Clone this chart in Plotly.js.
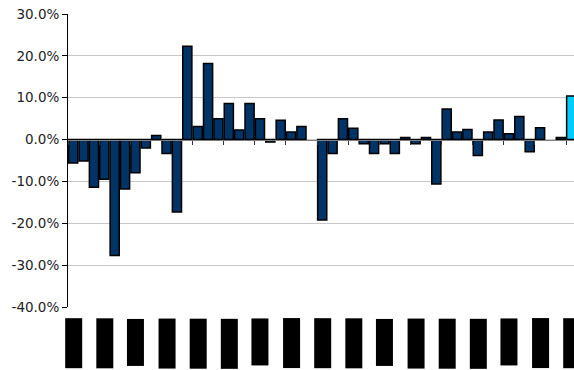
<!DOCTYPE html>
<html>
<head>
<meta charset="utf-8">
<script src="https://cdn.plot.ly/plotly-3.0.1.min.js"></script>
<style>html,body{margin:0;padding:0;background:#fff;}#chart{width:574px;height:370px;}</style>
</head>
<body>
<div id="chart"></div>
<script>
const categories = [
  'Jan 2004','Feb 2004','Mar 2004','Apr 2004','May 2004','Jun 2004','Jul 2004','Aug 2004','Sep 2004','Oct 2004','Nov 2004','Dec 2004',
  'Jan 2005','Feb 2005','Mar 2005','Apr 2005','May 2005','Jun 2005','Jul 2005','Aug 2005','Sep 2005','Oct 2005','Nov 2005','Dec 2005',
  'Jan 2006','Feb 2006','Mar 2006','Apr 2006','May 2006','Jun 2006','Jul 2006','Aug 2006','Sep 2006','Oct 2006','Nov 2006','Dec 2006',
  'Jan 2007','Feb 2007','Mar 2007','Apr 2007','May 2007','Jun 2007','Jul 2007','Aug 2007','Sep 2007','Oct 2007','Nov 2007','Dec 2007',
  'Jan 2008'
];
const returns = [
  -5.6, -5.1, -11.4, -9.5, -27.7, -11.8, -7.9, -2.0, 1.0, -3.3, -17.3, 22.3,
  3.1, 18.2, 5.0, 8.6, 2.3, 8.6, 5.0, -0.6, 4.6, 1.8, 3.1, null,
  -19.2, -3.3, 5.0, 2.7, -1.0, -3.3, -1.0, -3.3, 0.5, -1.0, 0.5, -10.6,
  7.3, 1.8, 2.4, -3.8, 1.8, 4.7, 1.4, 5.5, -2.9, 2.8, null, 0.5,
  10.4
];
const yTickVals = [-40, -30, -20, -10, 0, 10, 20, 30];
const yTickText = ['-40.0%', '-30.0%', '-20.0%', '-10.0%', '0.0%', '10.0%', '20.0%', '30.0%'];
const labelStep = 3;

const NAVY = '#003366';
const CYAN = '#00ccff';
const barColors = returns.map((v, i) => i === returns.length - 1 ? CYAN : NAVY);

const trace = {
  type: 'bar',
  x: categories,
  y: returns,
  marker: { color: barColors, line: { color: '#000000', width: 1.5 } },
  hoverinfo: 'x+y'
};

const annotations = [];
for (let i = 0; i < categories.length; i += labelStep) {
  annotations.push({
    x: categories[i], xref: 'x',
    y: 0, yref: 'paper', yshift: -11,
    yanchor: 'top', xanchor: 'center',
    text: categories[i],
    textangle: -90,
    showarrow: false,
    bgcolor: '#000000',
    borderpad: 2,
    font: { family: 'Liberation Sans, Arial, sans-serif', size: 11, color: '#000000' }
  });
}

const layout = {
  width: 574, height: 370,
  margin: { l: 68, r: 0, t: 14, b: 63, pad: 0 },
  paper_bgcolor: '#ffffff', plot_bgcolor: '#ffffff',
  showlegend: false,
  bargap: 0.12,
  font: { family: 'DejaVu Sans, Verdana, sans-serif', size: 13.5, color: '#222222' },
  xaxis: {
    type: 'category',
    range: [-0.5, 48.27],
    anchor: 'free', position: 40 / 70,
    showline: true, linecolor: '#808080', linewidth: 1,
    ticks: 'outside', tickson: 'boundaries', dtick: labelStep, ticklen: 4, tickcolor: '#333333', tickwidth: 1,
    showticklabels: false, showgrid: false, zeroline: false, fixedrange: true
  },
  yaxis: {
    range: [-40, 30],
    tickvals: yTickVals, ticktext: yTickText,
    showline: true, linecolor: '#000000', linewidth: 1,
    ticks: 'outside', ticklen: 5, tickcolor: '#000000',
    showgrid: true, gridcolor: '#c8c8c8', gridwidth: 1,
    zeroline: false, fixedrange: true
  },
  annotations: annotations
};

Plotly.newPlot('chart', [trace], layout, { displayModeBar: false, staticPlot: true });
</script>
</body>
</html>
